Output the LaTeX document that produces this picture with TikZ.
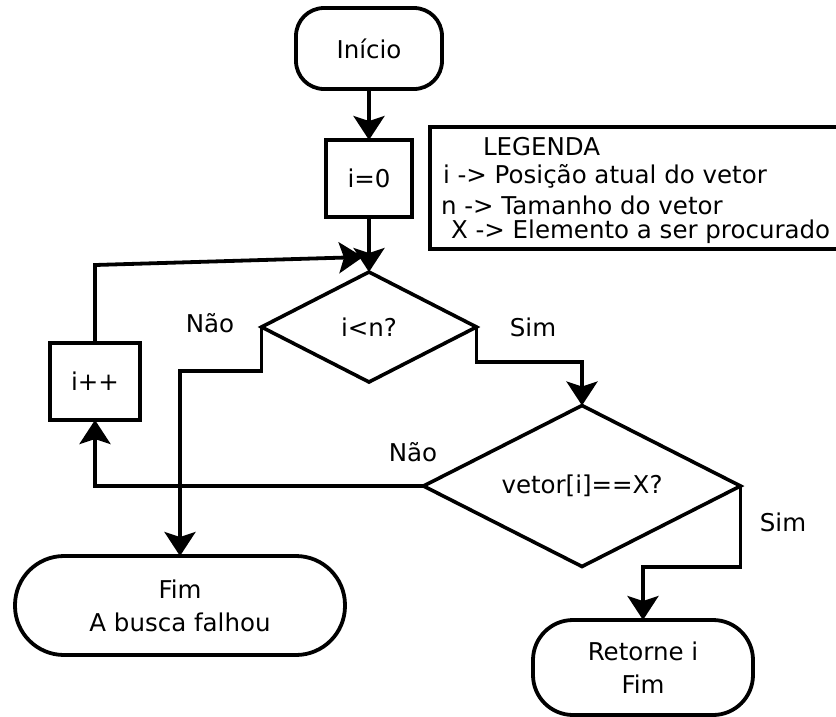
\documentclass[tikz,border=0pt]{standalone}
\usepackage{fontspec}
\setmainfont{DejaVu Sans}
\usetikzlibrary{arrows.meta,shapes.geometric}
\begin{document}
\begin{tikzpicture}[x=1pt,y=-1pt,
  every node/.style={font=\fontsize{24.5}{33}\selectfont, inner sep=0pt, outer sep=0pt},
  ln/.style={line width=3.8pt},
  arr/.style={ln, -{Stealth[length=24pt,width=31pt,inset=5pt]}},
  term/.style={draw, line width=3.8pt, rounded corners=#1, align=center},
  proc/.style={draw, line width=3.8pt},
  dec/.style={draw, line width=3.6pt, shape=diamond},
  legtext/.style={anchor=base west}]
\useasboundingbox (0,0) rectangle (836,716);
% nodes
\node[term=28pt, minimum width=146pt, minimum height=81pt] (ini) at (369,48.5) {Início};
\node[proc, minimum width=86pt, minimum height=77pt] (i0) at (369,178.5) {i=0};
\node[dec, aspect=1.95, minimum width=215pt, minimum height=110pt] (d1) at (369,327) {i<n?};
\node[dec, aspect=1.97, minimum width=317pt, minimum height=161pt] (d2) at (582,486) {vetor[i]==X?};
\node[proc, minimum width=90pt, minimum height=77pt] (ipp) at (95,381.5) {i++};
\node[term=49pt, minimum width=330pt, minimum height=99pt] (fim) at (180,605.5) {Fim\\A busca falhou};
\node[term=40pt, minimum width=220pt, minimum height=95pt] (ret) at (643,667.5) {Retorne i\\Fim};
% connectors
\coordinate (lc) at (95,265);
\coordinate (lj) at (363,257);
\draw[arr] (ini.south) -- (i0.north);
\draw[arr] (i0.south) -- (d1.north);
\draw[arr] (ipp.north) -- (lc) -- (lj);
\draw[arr] (d1.west) -- ++(0,44) -| (fim.north);
\draw[arr] (d1.east) -- ++(0,35) -| (d2.north);
\draw[arr] (d2.west) -| (ipp.south);
\draw[arr] (d2.east) -- ++(0,81) -| (ret.north);
% labels
\node (n1) at (210,323) {Não};
\node (s1) at (533,327) {Sim};
\node (n2) at (413,452) {Não};
\node (s2) at (783,522) {Sim};
% legend
\draw[line width=3.2pt] (836,127) -- (430,127) -- (430,249) -- (836,249);
\node[legtext] (lg0) at (483,155) {LEGENDA};
\node[legtext] (lg1) at (443,183) {i -> Posição atual do vetor};
\node[legtext] (lg2) at (441,214) {n -> Tamanho do vetor};
\node[legtext] (lg3) at (451,238) {X -> Elemento a ser procurado};
\end{tikzpicture}
\end{document}
